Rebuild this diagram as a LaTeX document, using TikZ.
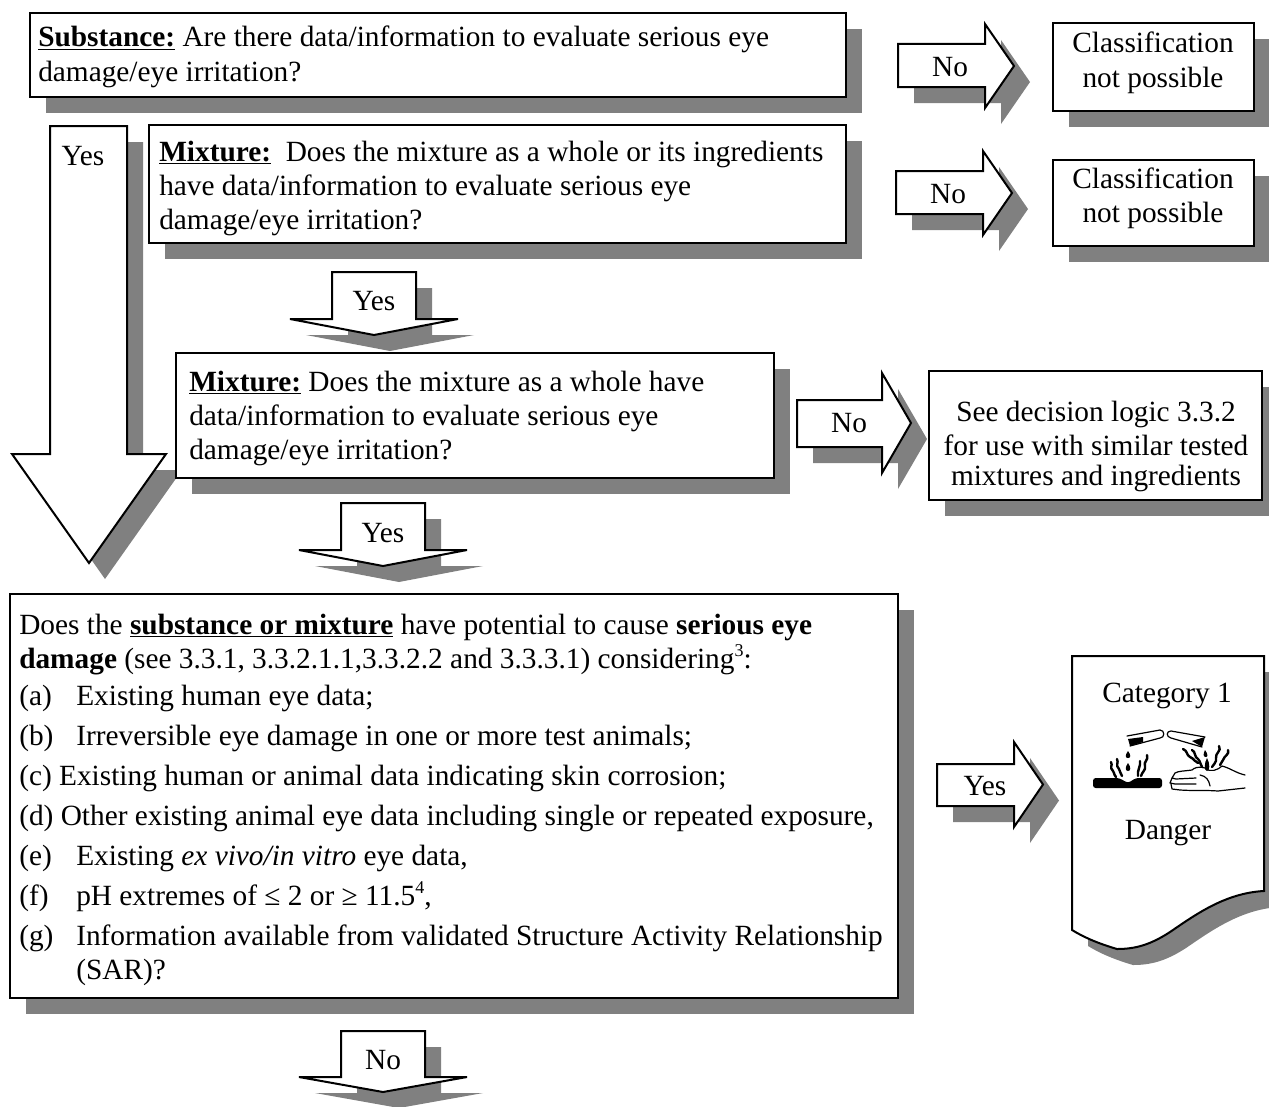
\documentclass[tikz,border=0pt]{standalone}
\usepackage{fontspec}
\setmainfont{Liberation Serif}
\newcommand{\fs}{\fontsize{22pt}{25.5pt}\selectfont}
\definecolor{shadowgray}{HTML}{808080}
\tikzset{
 shad/.style={fill=shadowgray,draw=none},
 outl/.style={fill=white,draw=black,line width=1.5pt,line join=miter},
 lbl/.style={font=\fs,inner sep=0pt,align=left,anchor=base west},
 ctr/.style={font=\fs,inner sep=0pt,align=center,anchor=base},
 wig/.style={draw=black,line width=1.8pt,line cap=round},
 thin line/.style={draw=black,line width=0.9pt,line cap=round,line join=round},
}
\newcommand{\shp}[1]{\fill[shad,shift={(16,16)}] #1; \draw[outl] #1;}
\newcommand{\rarr}[7]{% x0 neck tip ytop ybot headtop headbot
 \shp{(#1,#4) -- (#2,#4) -- (#2,#6) -- (#3,{(#6+#7)/2}) -- (#2,#7) -- (#2,#5) -- (#1,#5) -- cycle}}
\newcommand{\darr}[7]{% y0 shoulder tip xl xr headl headr
 \shp{(#4,#1) -- (#5,#1) -- (#5,#2) -- (#7,#2) -- ({(#6+#7)/2},#3) -- (#6,#2) -- (#4,#2) -- cycle}}
\newcommand{\bx}[4]{\shp{(#1,#2) rectangle (#3,#4)}}
\newcommand{\under}[1]{\underline{\textbf{#1}}}
\newcommand{\sps}[1]{\smash{\raisebox{8.5pt}{\fontsize{13.5pt}{13.5pt}\selectfont #1}}}
\begin{document}
\begin{tikzpicture}[x=0.75pt,y=-0.75pt]
\useasboundingbox (0,0) rectangle (1269,1106);
\begin{scope}
\clip (0,0) rectangle (1269,1106);
\bx{30}{13}{846}{97}
\bx{1053}{23}{1254}{111}
\bx{149}{125}{846}{243}
\bx{1053}{160}{1254}{246}
\darr{126}{454}{563}{50}{127}{12}{166}
\bx{176}{353}{774}{478}
\bx{929}{371}{1262}{500}
\bx{10}{594}{898}{998}
\rarr{898}{985}{1014}{44}{87}{24}{108}
\rarr{896}{983}{1012}{171}{214}{151}{235}
\rarr{797}{882}{911}{400}{447}{373}{473}
\rarr{937}{1014}{1043}{764}{806}{742}{827}
\darr{272}{319}{335}{332}{416}{290}{458}
\darr{503}{550}{566}{341}{425}{299}{467}
\darr{1031}{1077}{1092}{341}{425}{299}{467}
\shp{(1072,656) -- (1264,656) -- (1264,891) .. controls (1225,893) and (1195,915) .. (1170,932) .. controls (1150,945) and (1135,949) .. (1117,949) .. controls (1100,944) and (1085,938) .. (1072,930) -- cycle}
\end{scope}
% corrosion pictogram
\fill[black,rounded corners=2pt] (1093,778) -- (1119,778) -- (1128,783) -- (1136,778) -- (1162,778) -- (1162,788) -- (1093,788) -- cycle;
\draw[thin line] (1127,736) -- (1160,730) .. controls (1165,730) and (1165,738) .. (1160,738) -- (1130,746);
\fill[black] (1128,739) -- (1143,737) -- (1143,742) -- (1130,746) -- cycle;
\fill[black] (1128,751) .. controls (1125,755) and (1125,758) .. (1128,758) .. controls (1131,758) and (1131,755) .. (1128,751) -- cycle;
\fill[black] (1128,763) .. controls (1125,767) and (1125,771) .. (1128,771) .. controls (1131,771) and (1131,767) .. (1128,763) -- cycle;
\draw[wig] (1111,762) .. controls (1113,766) and (1109,767) .. (1113,771) .. controls (1115,774) and (1114,776) .. (1116,777);
\draw[wig] (1117,759) .. controls (1119,763) and (1115,765) .. (1119,769) .. controls (1121,772) and (1120,774) .. (1122,776);
\draw[wig] (1140,761) .. controls (1141,766) and (1137,770) .. (1138,776);
\draw[wig] (1147,755) .. controls (1149,760) and (1143,762) .. (1145,766) .. controls (1146,770) and (1142,772) .. (1141,776);
% right half
\draw[thin line] (1202,747) -- (1171,738) .. controls (1166,737) and (1166,731) .. (1171,731) -- (1205,737);
\fill[black] (1192,741) -- (1205,737) -- (1202,747) -- cycle;
\fill[black] (1205,750) .. controls (1203,754) and (1203,757) .. (1206,757) .. controls (1208,757) and (1208,754) .. (1205,750) -- cycle;
\fill[black] (1207,758) .. controls (1204,763) and (1204,771) .. (1207,771) .. controls (1210,771) and (1210,763) .. (1207,758) -- cycle;
\draw[wig] (1183,749) .. controls (1188,751) and (1186,755) .. (1190,757) .. controls (1195,759) and (1194,762) .. (1198,763);
\draw[wig] (1192,750) .. controls (1196,752) and (1194,757) .. (1198,759) .. controls (1201,762) and (1200,765) .. (1202,767);
\draw[wig] (1219,746) .. controls (1222,751) and (1215,753) .. (1216,758) .. controls (1217,762) and (1213,765) .. (1212,767);
\draw[wig] (1228,750) .. controls (1230,754) and (1224,756) .. (1223,760) -- (1220,765);
\draw[thin line] (1245,775) .. controls (1236,773) and (1230,768) .. (1222,766) .. controls (1218,770) and (1210,773) .. (1205,768) .. controls (1198,766) and (1194,768) .. (1192,770) .. controls (1185,771) and (1178,771) .. (1175,773) -- (1172,778) -- (1176,779) -- (1196,778);
\draw[thin line] (1172,778) -- (1170,783) -- (1175,784) -- (1196,784);
\draw[thin line] (1171,784) -- (1172,789) -- (1180,790) .. controls (1195,791) and (1205,790) .. (1218,791) -- (1245,788);
\draw[thin line] (1200,775) .. controls (1206,776) and (1209,780) .. (1210,786);
% texts
\node[lbl] (t1a) at (38,47) {\under{Substance:} Are there data/information to evaluate serious eye};
\node[lbl] (t1b) at (38,81) {damage/eye irritation?};
\node[lbl] (t2a) at (159,161) {\under{Mixture:}\ \ Does the mixture as a whole or its ingredients};
\node[lbl] (t2b) at (159,195) {have data/information to evaluate serious eye};
\node[lbl] (t2c) at (159,229) {damage/eye irritation?};
\node[lbl] (t3a) at (189,391) {\under{Mixture:} Does the mixture as a whole have};
\node[lbl] (t3b) at (189,425) {data/information to evaluate serious eye};
\node[lbl] (t3c) at (189,459) {damage/eye irritation?};
\node[ctr] (c1a) at (1153,53) {Classification};
\node[ctr] (c1b) at (1153,87) {not possible};
\node[ctr] (c2a) at (1153,188) {Classification};
\node[ctr] (c2b) at (1153,222) {not possible};
\node[ctr] (c3a) at (1096,421) {See decision logic 3.3.2};
\node[ctr] (c3b) at (1096,455) {for use with similar tested};
\node[ctr] (c3c) at (1096,485) {mixtures and ingredients};
\node[ctr] (n1) at (950,76) {No};
\node[ctr] (n2) at (948,203) {No};
\node[ctr] (n3) at (849,432) {No};
\node[ctr] (y0) at (83,165) {Yes};
\node[ctr] (y1) at (374,310) {Yes};
\node[ctr] (y2) at (383,542) {Yes};
\node[ctr] (n4) at (383,1069) {No};
\node[ctr] (y3) at (985,795) {Yes};
\node[ctr] (cat) at (1167,702) {Category 1};
\node[ctr] (dan) at (1168,839) {Danger};
\node[lbl] (b0) at (19,634) {Does the \under{substance or mixture} have potential to cause \textbf{serious eye}};
\node[lbl] (b1) at (19,668) {\textbf{damage} (see 3.3.1, 3.3.2.1.1,3.3.2.2 and 3.3.3.1) considering\sps{3}:};
\node[lbl] (ba) at (19,705) {(a)}; \node[lbl] (bat) at (76,705) {Existing human eye data;};
\node[lbl] (bb) at (19,745) {(b)}; \node[lbl] (bbt) at (76,745) {Irreversible eye damage in one or more test animals;};
\node[lbl] (bc) at (19,785) {(c) Existing human or animal data indicating skin corrosion;};
\node[lbl] (bd) at (19,825) {(d) Other existing animal eye data including single or repeated exposure,};
\node[lbl] (be) at (19,865) {(e)}; \node[lbl] (bet) at (76,865) {Existing \textit{ex vivo/in vitro} eye data,};
\node[lbl] (bf) at (19,905) {(f)}; \node[lbl] (bft) at (76,905) {pH extremes of ≤ 2 or ≥ 11.5\sps{4},};
\node[lbl] (bg) at (19,945) {(g)}; \node[lbl] (bgt) at (76,945) {Information available from validated Structure Activity Relationship};
\node[lbl] (bh) at (76,979) {(SAR)?};
\end{tikzpicture}
\end{document}
